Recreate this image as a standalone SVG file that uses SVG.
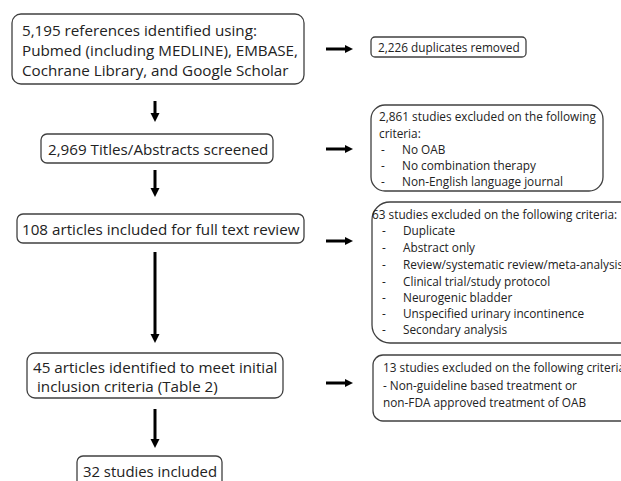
<svg xmlns="http://www.w3.org/2000/svg" width="621" height="481" viewBox="0 0 621 481">
<defs>
<style>
.box{fill:#fff;stroke:#404040;stroke-width:1.3}
.t{font-family:"Open Sans","Noto Sans",sans-serif;font-size:15.2px;fill:#222}
.s{font-family:"Open Sans","Noto Sans",sans-serif;font-size:11.8px;fill:#222}
.ln{stroke:#000;stroke-width:3;fill:none}
.hd{fill:#000}
</style>
</defs>
<rect width="621" height="481" fill="#fff"/>
<g id="n1"><rect class="box" x="12" y="14" width="292" height="70" rx="9"/>
<text class="t" x="22" y="36">5,195 references identified using:</text>
<text class="t" x="22" y="56">Pubmed (including MEDLINE), EMBASE,</text>
<text class="t" x="22" y="76">Cochrane Library, and Google Scholar</text></g>
<g id="n2"><rect class="box" x="371" y="37" width="155" height="20" rx="4"/>
<text class="s" x="378" y="51.5">2,226 duplicates removed</text></g>
<g id="n3"><rect class="box" x="41" y="134" width="232" height="29" rx="6"/>
<text class="t" x="48" y="154.5">2,969 Titles/Abstracts screened</text></g>
<g id="n4"><rect class="box" x="371" y="105" width="232" height="86" rx="14"/>
<text class="s" x="379" y="121">2,861 studies excluded on the following</text>
<text class="s" x="379" y="138">criteria:</text>
<text class="s" x="381" y="154">-</text><text class="s" x="402" y="154">No OAB</text>
<text class="s" x="381" y="170">-</text><text class="s" x="402" y="170">No combination therapy</text>
<text class="s" x="381" y="186">-</text><text class="s" x="402" y="186">Non-English language journal</text></g>
<g id="n5"><rect class="box" x="17" y="214" width="287" height="29" rx="6"/>
<text class="t" x="22" y="234.5">108 articles included for full text review</text></g>
<g id="n6"><rect class="box" x="372" y="202" width="270" height="141" rx="18"/>
<text class="s" x="372" y="219">63 studies excluded on the following criteria:</text>
<text class="s" x="382" y="235">-</text><text class="s" x="403" y="235">Duplicate</text>
<text class="s" x="382" y="252">-</text><text class="s" x="403" y="252">Abstract only</text>
<text class="s" x="382" y="269">-</text><text class="s" x="403" y="269">Review/systematic review/meta-analysis</text>
<text class="s" x="382" y="286">-</text><text class="s" x="403" y="286">Clinical trial/study protocol</text>
<text class="s" x="382" y="302">-</text><text class="s" x="403" y="302">Neurogenic bladder</text>
<text class="s" x="382" y="318">-</text><text class="s" x="403" y="318">Unspecified urinary incontinence</text>
<text class="s" x="382" y="334">-</text><text class="s" x="403" y="334">Secondary analysis</text></g>
<g id="n7"><rect class="box" x="27" y="353" width="256" height="45" rx="8"/>
<text class="t" x="33" y="373">45 articles identified to meet initial</text>
<text class="t" x="37" y="392">inclusion criteria (Table 2)</text></g>
<g id="n8"><rect class="box" x="373" y="355" width="270" height="66" rx="10"/>
<text class="s" x="383" y="372">13 studies excluded on the following criteria:</text>
<text class="s" x="383" y="390">- Non-guideline based treatment or</text>
<text class="s" x="383" y="407">non-FDA approved treatment of OAB</text></g>
<g id="n9"><rect class="box" x="77" y="456" width="145" height="40" rx="6"/>
<text class="t" x="83" y="477" textLength="134" lengthAdjust="spacingAndGlyphs">32 studies included</text></g>
<g id="connectors">
<line class="ln" x1="155" y1="101" x2="155" y2="114"/><polygon class="hd" points="150.5,113 159.5,113 155,122"/>
<line class="ln" x1="155" y1="170" x2="155" y2="189"/><polygon class="hd" points="150.5,188 159.5,188 155,197"/>
<line class="ln" x1="155" y1="252" x2="155" y2="335"/><polygon class="hd" points="150.5,334 159.5,334 155,343"/>
<line class="ln" x1="155" y1="409" x2="155" y2="440"/><polygon class="hd" points="150.5,439 159.5,439 155,448"/>
<line class="ln" x1="326" y1="49" x2="346" y2="49"/><polygon class="hd" points="345,45 353,49 345,53"/>
<line class="ln" x1="326" y1="149" x2="346" y2="149"/><polygon class="hd" points="345,145 353,149 345,153"/>
<line class="ln" x1="326" y1="241" x2="346" y2="241"/><polygon class="hd" points="345,237 353,241 345,245"/>
<line class="ln" x1="326" y1="383" x2="346" y2="383"/><polygon class="hd" points="345,379 353,383 345,387"/>
</g>
</svg>
